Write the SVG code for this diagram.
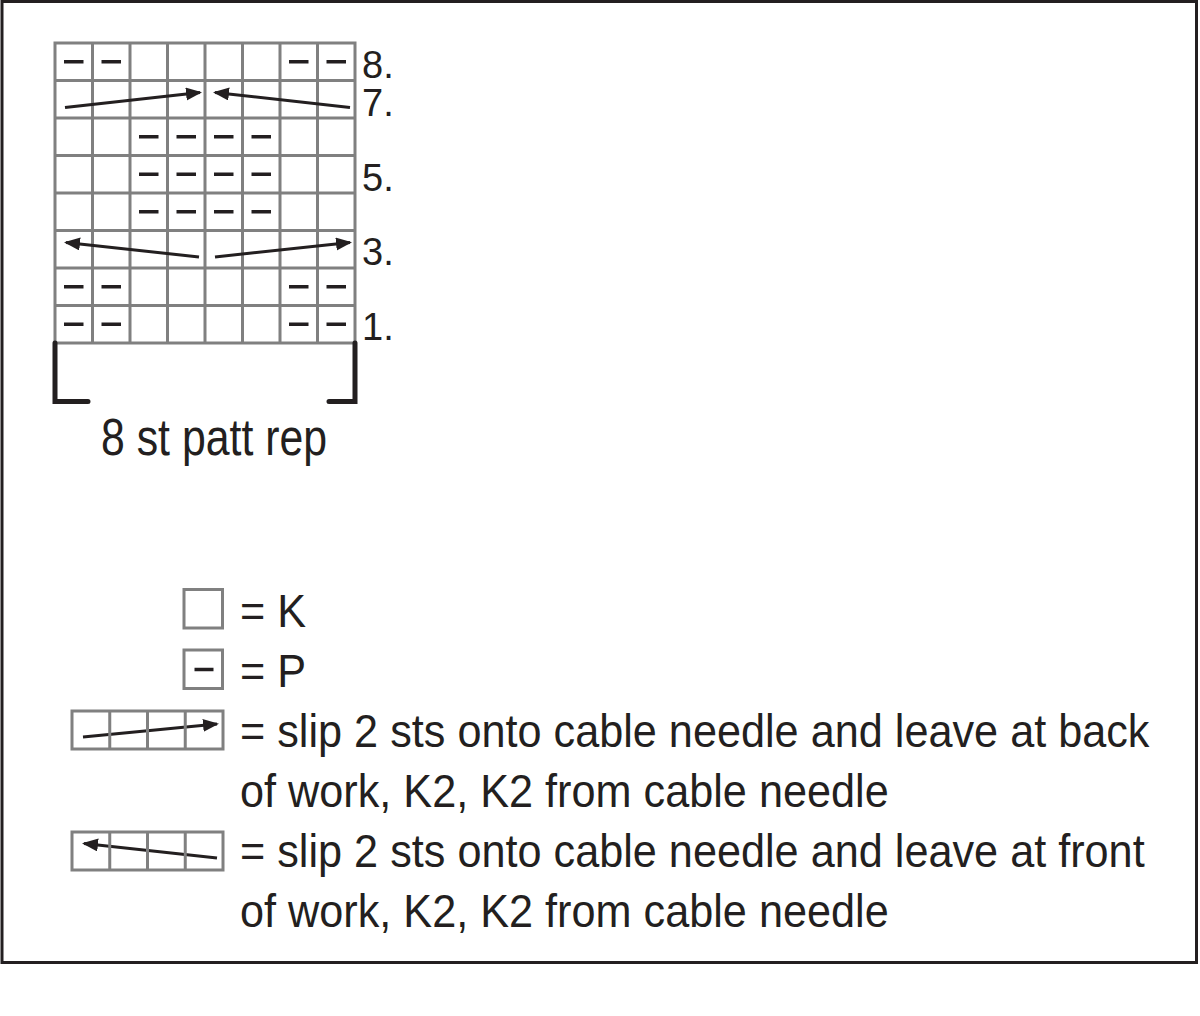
<svg xmlns="http://www.w3.org/2000/svg" width="1200" height="1016" viewBox="0 0 1200 1016">
<style>
.grid{fill:none;stroke:#808080;stroke-width:3}
.purl{stroke:#231f20;stroke-width:3.5;stroke-linecap:butt}
.arrow{stroke:#231f20;stroke-width:3;fill:none}
.txt{font-family:"Liberation Sans",Arial,sans-serif;fill:#231f20}
.leg{font-size:47px}
.bracket{fill:none;stroke:#231f20;stroke-width:5;stroke-linecap:round;stroke-linejoin:miter}
</style>
<defs>
<marker id="ah" markerUnits="userSpaceOnUse" markerWidth="17" markerHeight="14" refX="14" refY="6.5" orient="auto">
<path d="M0,0 L16,6.5 L0,13 z" fill="#231f20"/>
</marker>
</defs>
<rect x="2" y="1.5" width="1194.5" height="961" fill="#ffffff" stroke="#231f20" stroke-width="3"/>

<g id="chart">
<rect class="grid" x="55" y="43" width="300" height="300"/>
<path class="grid" d="M92.5,43V343M130,43V343M167.5,43V343M205,43V343M242.5,43V343M280,43V343M317.5,43V343M55,80.5H355M55,118H355M55,155.5H355M55,193H355M55,230.5H355M55,268H355M55,305.5H355"/>
<g id="purls">
<path class="purl" d="M64,61.75h19.5M101.5,61.75h19.5M289,61.75h19.5M326.5,61.75h19.5"/>
<path class="purl" d="M139,136.75h19.5M176.5,136.75h19.5M214,136.75h19.5M251.5,136.75h19.5"/>
<path class="purl" d="M139,174.25h19.5M176.5,174.25h19.5M214,174.25h19.5M251.5,174.25h19.5"/>
<path class="purl" d="M139,211.75h19.5M176.5,211.75h19.5M214,211.75h19.5M251.5,211.75h19.5"/>
<path class="purl" d="M64,286.75h19.5M101.5,286.75h19.5M289,286.75h19.5M326.5,286.75h19.5"/>
<path class="purl" d="M64,324.25h19.5M101.5,324.25h19.5M289,324.25h19.5M326.5,324.25h19.5"/>
</g>
</g>

<g id="row-numbers" class="txt" font-size="38">
<text x="362" y="78">8.</text>
<text x="362" y="116">7.</text>
<text x="362" y="191">5.</text>
<text x="362" y="265">3.</text>
<text x="362" y="340">1.</text>
</g>

<g id="repeat">
<path class="bracket" d="M55,343V401.5H88M355,343V401.5H329"/>
<text class="txt" transform="translate(101,455) scale(0.84,1)" x="0" y="0" font-size="51">8 st patt rep</text>
</g>

<g id="connectors">
<line class="arrow" x1="65" y1="107.5" x2="200" y2="92.5" marker-end="url(#ah)"/>
<line class="arrow" x1="350" y1="107.5" x2="215" y2="92.5" marker-end="url(#ah)"/>
<line class="arrow" x1="199" y1="257" x2="66" y2="242.5" marker-end="url(#ah)"/>
<line class="arrow" x1="215" y1="257" x2="350" y2="242.5" marker-end="url(#ah)"/>
<line class="arrow" x1="83" y1="737" x2="217" y2="724" marker-end="url(#ah)"/>
<line class="arrow" x1="217" y1="858" x2="84" y2="843.5" marker-end="url(#ah)"/>
</g>

<g id="legend-k">
<rect class="grid" x="184" y="589.5" width="38.5" height="38.5"/>
<text class="txt leg" transform="translate(240,627) scale(0.92,1)">= K</text>
</g>
<g id="legend-p">
<rect class="grid" x="184" y="650" width="38.5" height="38.5"/>
<path class="purl" d="M194.5,669.5h19"/>
<text class="txt leg" transform="translate(240,687) scale(0.92,1)">= P</text>
</g>
<g id="legend-cable-back">
<rect class="grid" x="72" y="711" width="151" height="38"/>
<path class="grid" d="M109.75,711V749M147.5,711V749M185.25,711V749"/>
<text class="txt leg" transform="translate(240,747) scale(0.92,1)">= slip 2 sts onto cable needle and leave at back</text>
<text class="txt leg" transform="translate(240,807) scale(0.92,1)">of work, K2, K2 from cable needle</text>
</g>
<g id="legend-cable-front">
<rect class="grid" x="72" y="832" width="151" height="38"/>
<path class="grid" d="M109.75,832V870M147.5,832V870M185.25,832V870"/>
<text class="txt leg" transform="translate(240,867) scale(0.92,1)">= slip 2 sts onto cable needle and leave at front</text>
<text class="txt leg" transform="translate(240,927) scale(0.92,1)">of work, K2, K2 from cable needle</text>
</g>
</svg>
